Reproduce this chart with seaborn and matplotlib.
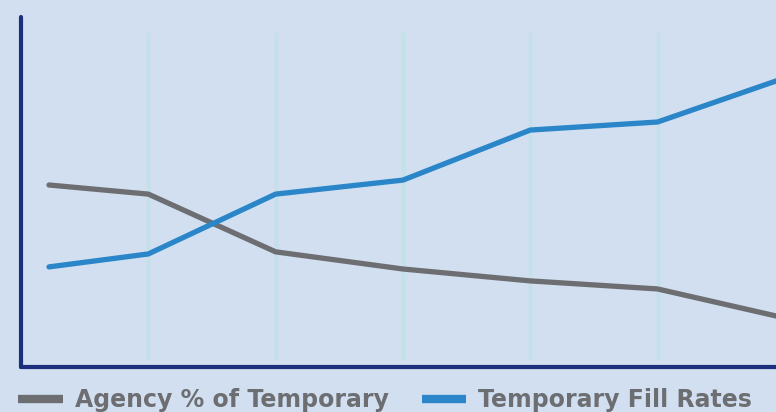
import pandas as pd
import seaborn as sns
import matplotlib.pyplot as plt
from matplotlib.lines import Line2D

periods = [0.22, 1, 2, 3, 4, 5, 6]
agency_pct = [52.0, 49.4, 32.9, 28.0, 24.6, 22.3, 14.0]
fill_rates = [28.6, 32.3, 49.4, 53.4, 67.7, 70.0, 82.6]
series_names = ['Agency % of Temporary', 'Temporary Fill Rates']
grid_pos = [1, 2, 3, 4, 5]

BG = '#d1dff0'
NAVY = '#1b2f7e'
GRAY = '#6d6e71'
BLUE = '#2a86c8'

df = pd.DataFrame({
    'period': periods * 2,
    'value': agency_pct + fill_rates,
    'series': [series_names[0]] * len(periods) + [series_names[1]] * len(periods),
})

sns.set_style('white')
plt.rcParams['font.family'] = ['DejaVu Sans']

fig = plt.figure(figsize=(7.76, 4.12), dpi=100, facecolor=BG)
ax = fig.add_axes([21 / 776, 45 / 412, 1 - 21 / 776, 350 / 412])
ax.set_facecolor(BG)

ax.vlines(grid_pos, 2, 95.7, colors='#c3e2e8', linewidth=2.5, zorder=0)

sns.lineplot(data=df, x='period', y='value', hue='series',
             palette=[GRAY, BLUE], linewidth=3.8, legend=False, ax=ax,
             solid_capstyle='round')

ax.set_xlim(0, 5.93)
ax.set_ylim(0, 100)
ax.set_xticks([])
ax.set_yticks([])
ax.set_xlabel('')
ax.set_ylabel('')
for s in ['top', 'right']:
    ax.spines[s].set_visible(False)
for s in ['left', 'bottom']:
    ax.spines[s].set_color(NAVY)
    ax.spines[s].set_linewidth(3)
    ax.spines[s].set_capstyle('round')

handles = [Line2D([], [], color=GRAY, linewidth=6, solid_capstyle='butt'),
           Line2D([], [], color=BLUE, linewidth=6, solid_capstyle='butt')]
leg = fig.legend(handles, series_names, loc='lower left', bbox_to_anchor=(18 / 776, 0.0),
                 ncol=2, frameon=False, handlelength=1.9, handletextpad=0.5,
                 columnspacing=1.4, borderpad=0, borderaxespad=0,
                 prop={'weight': 'bold', 'size': 17})
for t in leg.get_texts():
    t.set_color(GRAY)

fig.savefig('out.png', dpi=100, facecolor=BG)
